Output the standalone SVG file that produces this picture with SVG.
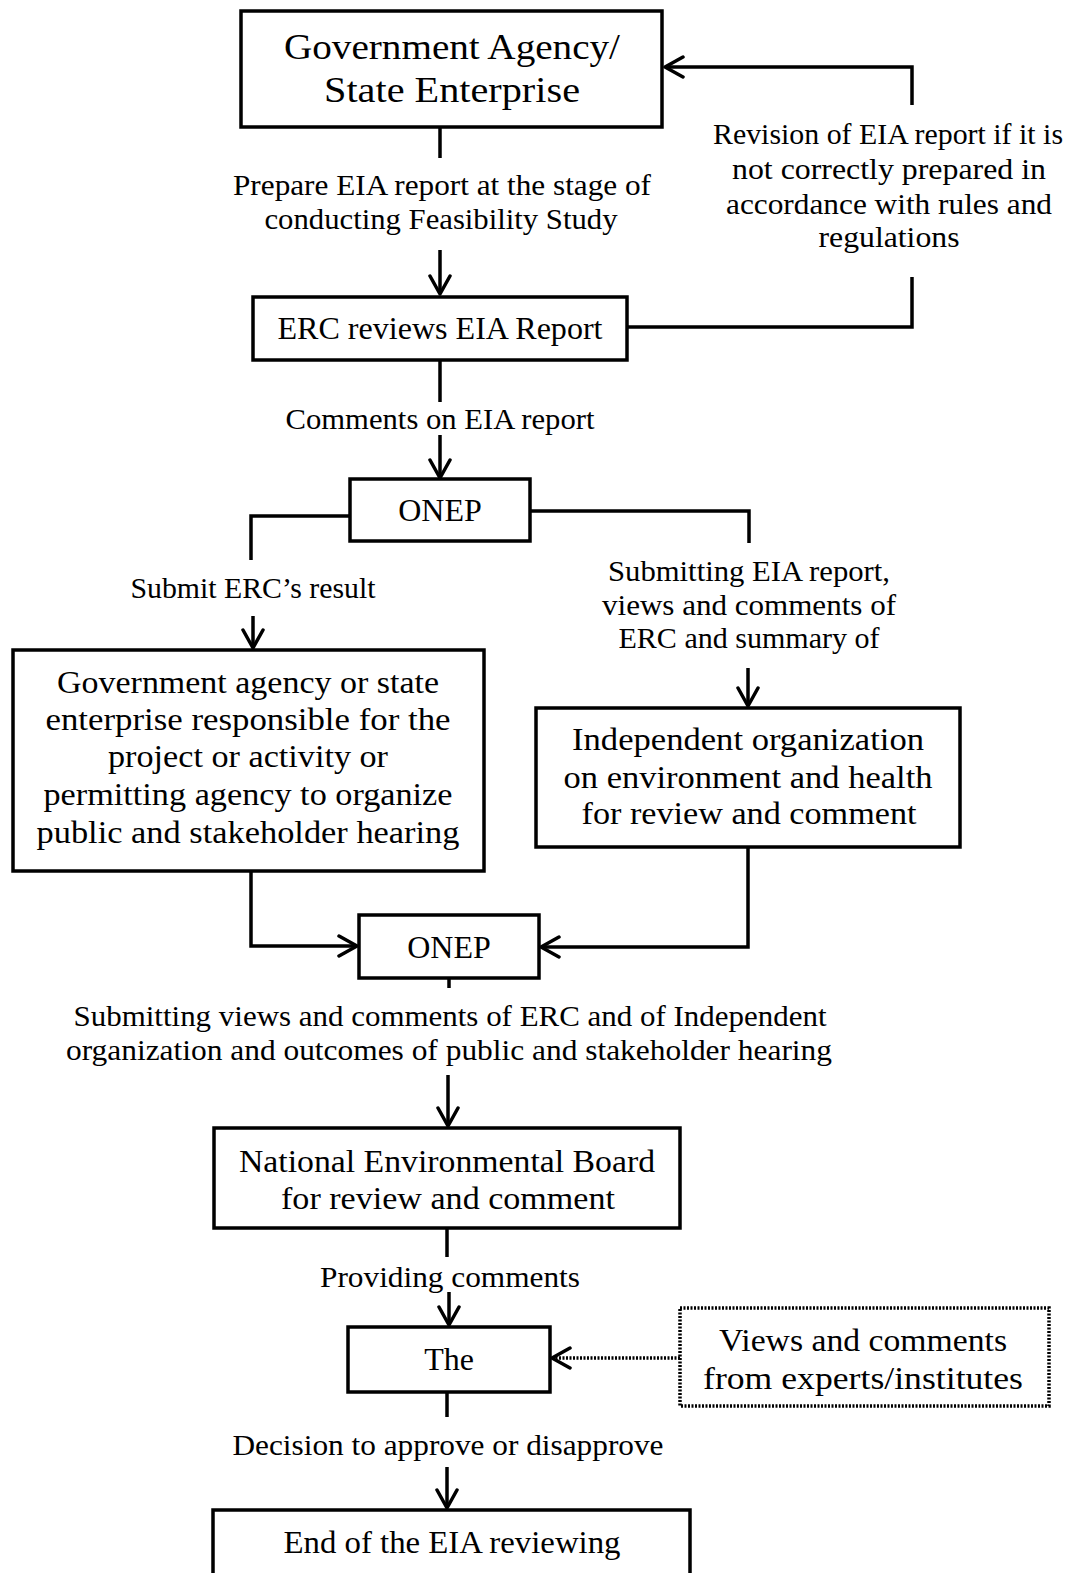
<svg xmlns="http://www.w3.org/2000/svg" width="1075" height="1573" viewBox="0 0 1075 1573">
<defs>
<style>
.box{fill:#fff;stroke:#000;stroke-width:3.5}
.dbox{fill:#fff;stroke:#000;stroke-width:3.5;stroke-dasharray:2 1.5}
.ln{fill:none;stroke:#000;stroke-width:3.5}
.dl{fill:none;stroke:#000;stroke-width:3.5;stroke-dasharray:2 1.5}
text{font-family:"Liberation Serif","Times New Roman",serif;fill:#000;text-anchor:middle}
.t36{font-size:36px}
.t32{font-size:32px}
.t30{font-size:30px}
</style>
<marker id="ah" markerUnits="userSpaceOnUse" markerWidth="30" markerHeight="30" viewBox="-20 -15 30 30" refX="0" refY="0" orient="auto">
<path d="M-18,-10 L0,0 L-18,10" fill="none" stroke="#000" stroke-width="3.5" stroke-linecap="round" stroke-linejoin="round"/>
</marker>
</defs>
<rect width="1075" height="1573" fill="#fff"/>
<g id="connectors">
<path class="ln" d="M440,127 V158"/>
<path class="ln" d="M440,250 V294" marker-end="url(#ah)"/>
<path class="ln" d="M627,327 H912 V277"/>
<path class="ln" d="M912,105 V67 H665" marker-end="url(#ah)"/>
<path class="ln" d="M440,360 V402"/>
<path class="ln" d="M440,435 V478" marker-end="url(#ah)"/>
<path class="ln" d="M350,516 H251 V560"/>
<path class="ln" d="M253,616 V648" marker-end="url(#ah)"/>
<path class="ln" d="M530,511 H749 V543"/>
<path class="ln" d="M748,668 V706" marker-end="url(#ah)"/>
<path class="ln" d="M251,872 V946 H357" marker-end="url(#ah)"/>
<path class="ln" d="M748,847 V947 H541" marker-end="url(#ah)"/>
<path class="ln" d="M449,978 V988"/>
<path class="ln" d="M448,1075 V1126" marker-end="url(#ah)"/>
<path class="ln" d="M447,1228 V1257"/>
<path class="ln" d="M449,1292 V1325" marker-end="url(#ah)"/>
<path class="dl" d="M680,1358 H552" marker-end="url(#ah)"/>
<path class="ln" d="M447,1392 V1417"/>
<path class="ln" d="M447,1467 V1508" marker-end="url(#ah)"/>
<text class="t30" x="442" y="195" textLength="418" lengthAdjust="spacingAndGlyphs">Prepare EIA report at the stage of</text>
<text class="t30" x="441" y="229" textLength="353" lengthAdjust="spacingAndGlyphs">conducting Feasibility Study</text>
<text class="t30" x="888" y="144" textLength="350" lengthAdjust="spacingAndGlyphs">Revision of EIA report if it is</text>
<text class="t30" x="889" y="179" textLength="314" lengthAdjust="spacingAndGlyphs">not correctly prepared in</text>
<text class="t30" x="889" y="214" textLength="326" lengthAdjust="spacingAndGlyphs">accordance with rules and</text>
<text class="t30" x="889" y="247" textLength="141" lengthAdjust="spacingAndGlyphs">regulations</text>
<text class="t30" x="440" y="429" textLength="309" lengthAdjust="spacingAndGlyphs">Comments on EIA report</text>
<text class="t30" x="253" y="598" textLength="245" lengthAdjust="spacingAndGlyphs">Submit ERC’s result</text>
<text class="t30" x="749" y="581" textLength="282" lengthAdjust="spacingAndGlyphs">Submitting EIA report,</text>
<text class="t30" x="749" y="615" textLength="294" lengthAdjust="spacingAndGlyphs">views and comments of</text>
<text class="t30" x="749" y="648" textLength="261" lengthAdjust="spacingAndGlyphs">ERC and summary of</text>
<text class="t30" x="450" y="1026" textLength="753" lengthAdjust="spacingAndGlyphs">Submitting views and comments of ERC and of Independent</text>
<text class="t30" x="449" y="1060" textLength="766" lengthAdjust="spacingAndGlyphs">organization and outcomes of public and stakeholder hearing</text>
<text class="t30" x="450" y="1287" textLength="260" lengthAdjust="spacingAndGlyphs">Providing comments</text>
<text class="t30" x="448" y="1455" textLength="431" lengthAdjust="spacingAndGlyphs">Decision to approve or disapprove</text>
</g>
<g id="node-gov">
<rect class="box" x="241" y="11" width="421" height="116"/>
<text class="t36" x="452" y="59" textLength="336" lengthAdjust="spacingAndGlyphs">Government Agency/</text>
<text class="t36" x="452" y="102" textLength="256" lengthAdjust="spacingAndGlyphs">State Enterprise</text>
</g>
<g id="node-erc">
<rect class="box" x="253" y="297" width="374" height="63"/>
<text class="t32" x="440" y="339" textLength="325" lengthAdjust="spacingAndGlyphs">ERC reviews EIA Report</text>
</g>
<g id="node-onep1">
<rect class="box" x="350" y="479" width="180" height="62"/>
<text class="t32" x="440" y="521">ONEP</text>
</g>
<g id="node-hearing">
<rect class="box" x="13" y="650" width="471" height="221"/>
<text class="t32" x="248" y="693" textLength="382" lengthAdjust="spacingAndGlyphs">Government agency or state</text>
<text class="t32" x="248" y="730" textLength="405" lengthAdjust="spacingAndGlyphs">enterprise responsible for the</text>
<text class="t32" x="248" y="767" textLength="280" lengthAdjust="spacingAndGlyphs">project or activity or</text>
<text class="t32" x="248" y="805" textLength="409" lengthAdjust="spacingAndGlyphs">permitting agency to organize</text>
<text class="t32" x="248" y="843" textLength="423" lengthAdjust="spacingAndGlyphs">public and stakeholder hearing</text>
</g>
<g id="node-independent">
<rect class="box" x="536" y="708" width="424" height="139"/>
<text class="t32" x="748" y="750" textLength="352" lengthAdjust="spacingAndGlyphs">Independent organization</text>
<text class="t32" x="748" y="788" textLength="369" lengthAdjust="spacingAndGlyphs">on environment and health</text>
<text class="t32" x="749" y="824" textLength="335" lengthAdjust="spacingAndGlyphs">for review and comment</text>
</g>
<g id="node-onep2">
<rect class="box" x="359" y="915" width="180" height="63"/>
<text class="t32" x="449" y="958">ONEP</text>
</g>
<g id="node-neb">
<rect class="box" x="214" y="1128" width="466" height="100"/>
<text class="t32" x="447" y="1172" textLength="416" lengthAdjust="spacingAndGlyphs">National Environmental Board</text>
<text class="t32" x="448" y="1209" textLength="334" lengthAdjust="spacingAndGlyphs">for review and comment</text>
</g>
<g id="node-the">
<rect class="box" x="348" y="1327" width="202" height="65"/>
<text class="t32" x="449" y="1370">The</text>
</g>
<g id="node-experts">
<rect class="dbox" x="680" y="1308" width="369" height="98"/>
<text class="t32" x="863" y="1351" textLength="288" lengthAdjust="spacingAndGlyphs">Views and comments</text>
<text class="t32" x="863" y="1389" textLength="320" lengthAdjust="spacingAndGlyphs">from experts/institutes</text>
</g>
<g id="node-end">
<rect class="box" x="213" y="1510" width="477" height="100"/>
<text class="t32" x="452" y="1553" textLength="337" lengthAdjust="spacingAndGlyphs">End of the EIA reviewing</text>
</g>
</svg>
